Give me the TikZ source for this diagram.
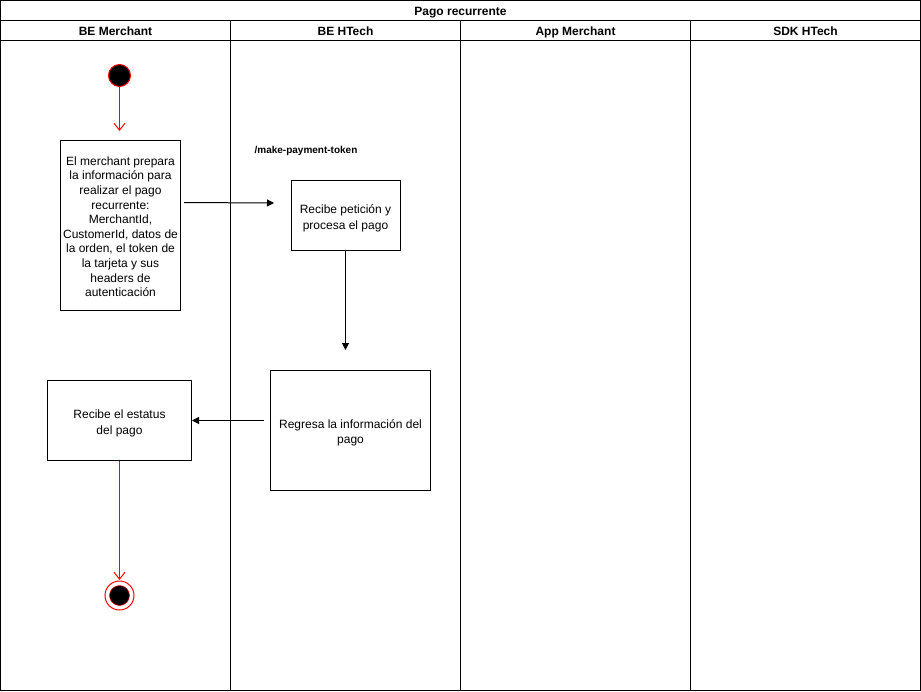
\documentclass[tikz,border=0pt]{standalone}
\usepackage{fontspec}
\setmainfont{Liberation Sans}
\usetikzlibrary{arrows.meta}
\begin{document}
\begin{tikzpicture}[x=1pt,y=-1pt,
  lane/.style={draw=black,line width=1pt},
  actbox/.style={draw=black,line width=1pt,fill=white,align=center,font=\fontsize{12}{14.6}\selectfont,inner sep=0pt},
  hdr/.style={font=\bfseries\fontsize{12}{14}\selectfont,text height=9pt,text depth=0pt,inner sep=0pt},
  flow/.style={draw=black,line width=1pt,-{Triangle[length=7pt,width=7pt]}},
  redflow/.style={draw=red,line width=1pt,-{Straight Barb[length=7pt,width=11pt]}}]
\useasboundingbox (0,0) rectangle (921,691);
% frame
\draw[lane] (0.5,0.5) rectangle (920.5,690.5);
\draw[lane] (0.5,20.5) -- (920.5,20.5);
\draw[lane] (0.5,40.5) -- (920.5,40.5);
\draw[lane] (230.5,20.5) -- (230.5,690.5);
\draw[lane] (460.5,20.5) -- (460.5,690.5);
\draw[lane] (690.5,20.5) -- (690.5,690.5);
\node[hdr] (title) at (460.5,10.5) {Pago recurrente};
\node[hdr] (l1) at (115.5,30.5) {BE Merchant};
\node[hdr] (l2) at (345.5,30.5) {BE HTech};
\node[hdr] (l3) at (575.5,30.5) {App Merchant};
\node[hdr] (l4) at (805.5,30.5) {SDK HTech};
% start
\node[circle,draw=red,fill=black,line width=1pt,minimum size=22pt,inner sep=0pt] (start) at (119.5,75.5) {};
% boxes
\node[actbox,minimum width=120pt,minimum height=170pt] (b1) at (120.5,225.5) {\rule{0pt}{11pt}El merchant prepara\\la información para\\realizar el pago\\recurrente:\\MerchantId,\\CustomerId, datos de\\la orden, el token de\\la tarjeta y sus\\headers de\\autenticación};
\node[actbox,minimum width=109pt,minimum height=70pt] (b2) at (345.5,215.5) {\rule{0pt}{14pt}Recibe petición y\\[1.5pt]procesa el pago};
\node[actbox,minimum width=160pt,minimum height=120pt] (b3) at (350.5,430.5) {\rule{0pt}{14pt}Regresa la información del\\pago};
\node[actbox,minimum width=144pt,minimum height=80pt] (b4) at (119.5,420.5) {\rule{0pt}{14pt}Recibe el estatus\\[1.5pt]del pago};
% end
\node[circle,draw=red,line width=1pt,minimum size=29pt,inner sep=0pt] (endo) at (119.5,595.5) {};
\node[circle,draw=red,fill=black,line width=0.5pt,minimum size=20pt,inner sep=0pt] (endi) at (119.5,595.5) {};
% label
\node[font=\bfseries\fontsize{10}{12}\selectfont] (lbl) at (306,150.5) {/make-payment-token};
% connectors
\coordinate (a1s) at (184,202.5);
\coordinate (a1e) at (274,203);
\coordinate (a2e) at (345.5,350);
\coordinate (a3s) at (264,420.5);
\coordinate (a4e) at (119.5,580);
\draw[redflow] (start.south) -- (119.5,131);
\draw[flow] (a1s) -- (a1e);
\draw[flow] (b2.south) -- (a2e);
\draw[flow] (a3s) -- (b4.east);
\draw[redflow] (b4.south) -- (a4e);
\end{tikzpicture}
\end{document}
